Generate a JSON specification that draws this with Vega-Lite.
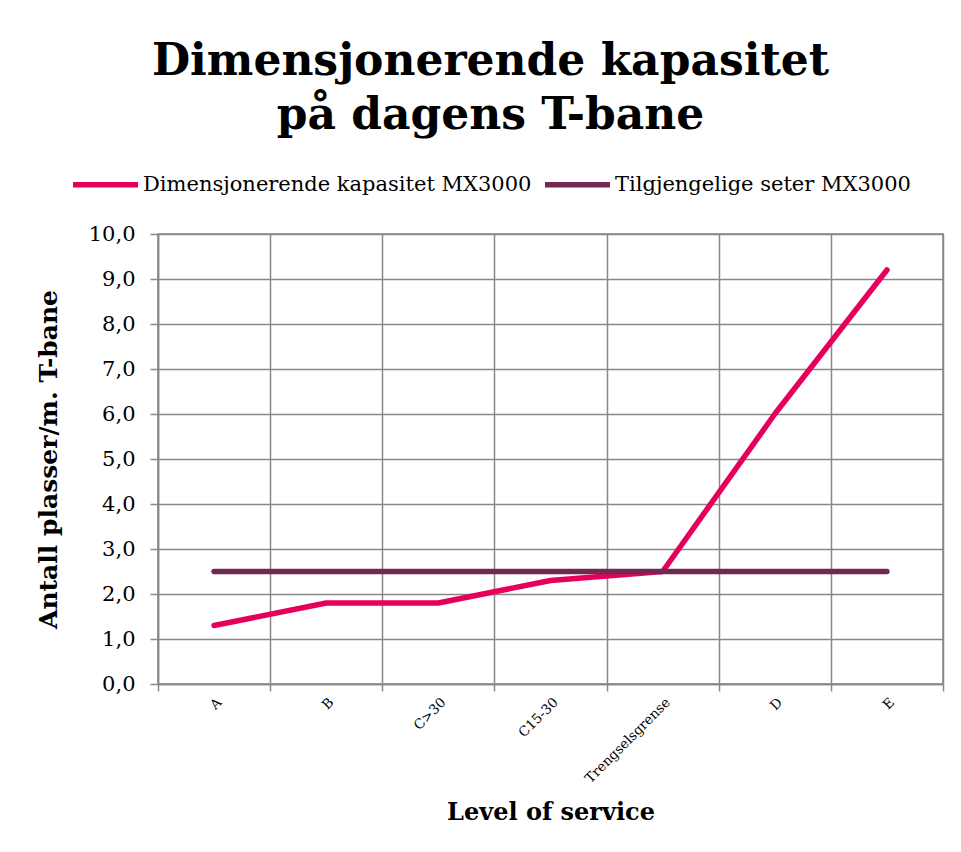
{
  "$schema": "https://vega.github.io/schema/vega-lite/v6.json",
  "width": 785,
  "height": 450,
  "autosize": {"type": "none"},
  "padding": {"left": 158, "top": 234, "right": 18, "bottom": 168},
  "background": "white",
  "title": {
    "text": ["Dimensjonerende kapasitet", "på dagens T-bane"],
    "font": "DejaVu Serif",
    "fontSize": 44,
    "fontWeight": "bold",
    "color": "black",
    "anchor": "middle",
    "frame": "group",
    "dx": -60,
    "lineHeight": 54,
    "offset": 11
  },
  "data": {
    "values": [
      {"los": "A", "serie": "Dimensjonerende kapasitet MX3000", "verdi": 1.3},
      {"los": "B", "serie": "Dimensjonerende kapasitet MX3000", "verdi": 1.8},
      {"los": "C>30", "serie": "Dimensjonerende kapasitet MX3000", "verdi": 1.8},
      {"los": "C15-30", "serie": "Dimensjonerende kapasitet MX3000", "verdi": 2.3},
      {"los": "Trengselsgrense", "serie": "Dimensjonerende kapasitet MX3000", "verdi": 2.5},
      {"los": "D", "serie": "Dimensjonerende kapasitet MX3000", "verdi": 6.0},
      {"los": "E", "serie": "Dimensjonerende kapasitet MX3000", "verdi": 9.2},
      {"los": "A", "serie": "Tilgjengelige seter MX3000", "verdi": 2.5},
      {"los": "B", "serie": "Tilgjengelige seter MX3000", "verdi": 2.5},
      {"los": "C>30", "serie": "Tilgjengelige seter MX3000", "verdi": 2.5},
      {"los": "C15-30", "serie": "Tilgjengelige seter MX3000", "verdi": 2.5},
      {"los": "Trengselsgrense", "serie": "Tilgjengelige seter MX3000", "verdi": 2.5},
      {"los": "D", "serie": "Tilgjengelige seter MX3000", "verdi": 2.5},
      {"los": "E", "serie": "Tilgjengelige seter MX3000", "verdi": 2.5}
    ]
  },
  "mark": {"type": "line", "strokeWidth": 5.5, "strokeCap": "round", "strokeJoin": "round"},
  "encoding": {
    "x": {
      "field": "los",
      "type": "nominal",
      "sort": ["A", "B", "C>30", "C15-30", "Trengselsgrense", "D", "E"],
      "scale": {"type": "band", "paddingInner": 0, "paddingOuter": 0},
      "axis": {
        "title": "Level of service",
        "titleFont": "DejaVu Serif",
        "titleFontSize": 24,
        "titleFontWeight": "bold",
        "titleColor": "black",
        "titlePadding": 16,
        "labelFont": "DejaVu Serif",
        "labelFontSize": 13.5,
        "labelColor": "black",
        "labelAngle": -45,
        "labelPadding": 4,
        "tickBand": "extent",
        "grid": true,
        "gridColor": "#888888",
        "gridWidth": 1.5,
        "domainColor": "#888888",
        "domainWidth": 1.5,
        "tickColor": "#888888",
        "tickWidth": 1.5,
        "tickSize": 7
      }
    },
    "y": {
      "field": "verdi",
      "type": "quantitative",
      "scale": {"domain": [0, 10], "nice": false},
      "axis": {
        "title": "Antall plasser/m. T-bane",
        "titleFont": "DejaVu Serif",
        "titleFontSize": 25,
        "titleFontWeight": "bold",
        "titleColor": "black",
        "titlePadding": 27,
        "values": [0, 1, 2, 3, 4, 5, 6, 7, 8, 9, 10],
        "labelExpr": "replace(format(datum.value, '.1f'), '.', ',')",
        "labelFont": "DejaVu Serif",
        "labelFontSize": 21,
        "labelColor": "black",
        "labelPadding": 15,
        "grid": true,
        "gridColor": "#888888",
        "gridWidth": 1.5,
        "domainColor": "#888888",
        "domainWidth": 1.5,
        "tickColor": "#888888",
        "tickWidth": 1.5,
        "tickSize": 8
      }
    },
    "color": {
      "field": "serie",
      "type": "nominal",
      "scale": {
        "domain": ["Dimensjonerende kapasitet MX3000", "Tilgjengelige seter MX3000"],
        "range": ["#E6005C", "#712852"]
      },
      "legend": {
        "title": null,
        "orient": "none",
        "direction": "horizontal",
        "legendX": -88,
        "legendY": -85,
        "symbolType": "stroke",
        "symbolSize": 4225,
        "symbolStrokeWidth": 5.5,
        "labelFont": "DejaVu Serif",
        "labelFontSize": 21,
        "labelColor": "black",
        "labelOffset": 2,
        "labelLimit": 500,
        "columnPadding": 2
      }
    }
  },
  "config": {
    "view": {"stroke": "#888888", "strokeWidth": 1.5}
  }
}
